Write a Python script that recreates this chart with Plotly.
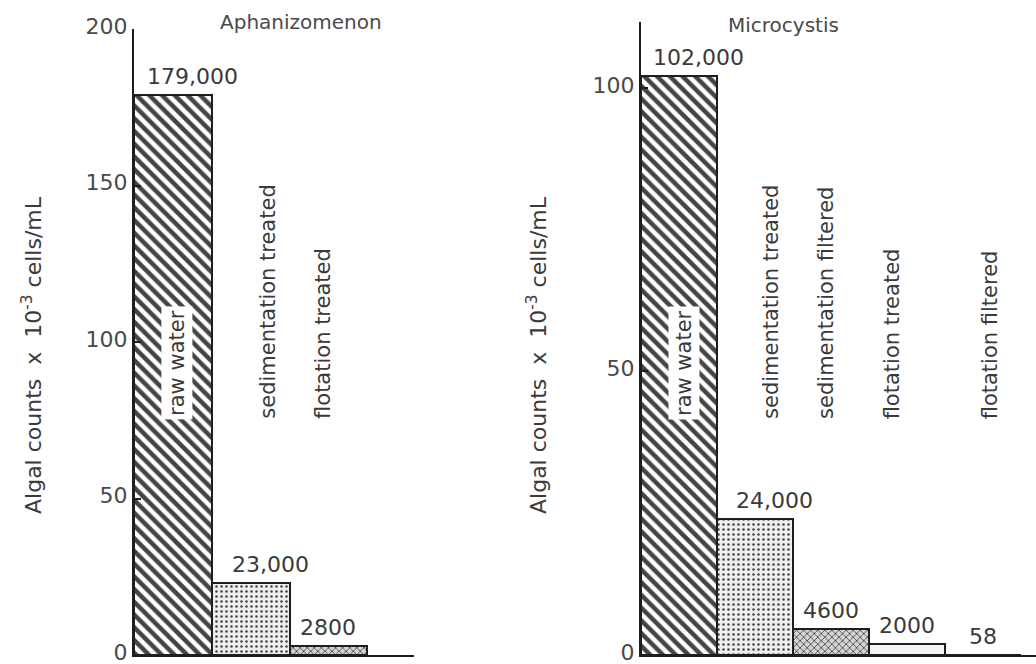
import plotly.graph_objects as go

# Algal counts (cells/mL) for each treatment stage
aph_categories = ["raw water", "sedimentation treated", "flotation treated"]
aph_counts = [179000, 23000, 2800]

mic_categories = ["raw water", "sedimentation treated", "sedimentation filtered",
                  "flotation treated", "flotation filtered"]
mic_counts = [102000, 24000, 4600, 2000, 58]

aph_ticks = [0, 50, 100, 150, 200]
mic_ticks = [0, 50, 100]

panel_titles = ["Aphanizomenon", "Microcystis"]
y_title = "Algal counts\u00a0\u00a0x\u00a0\u00a010<sup>-3</sup>\u00a0cells/mL"

W, H = 1036, 664
FONT = "DejaVu Sans"
INK = "#1e1e1e"
TEXT = "#3a3a3a"

# fill styles for each bar kind
STYLE = {
    "hatch": dict(shape="\\", fg="#111111", bg="#ffffff", size=9, solidity=0.5),
    "dots": dict(shape=".", fg="#c4c4c4", bg="#eeeeee", size=5, solidity=0.2),
    "mottle": dict(shape="x", fg="#505050", bg="#d4d4d4", size=5, solidity=0.3),
    "light": dict(shape="", fg="#f5f5f5", bg="#f5f5f5", size=5, solidity=0.3),
    "solid": dict(shape="", fg="#222222", bg="#222222", size=5, solidity=0.3),
}
aph_styles = ["hatch", "dots", "mottle"]
mic_styles = ["hatch", "dots", "mottle", "light", "solid"]


def fmt(n):
    return f"{n:,}" if n >= 10000 else str(n)


def bar(cats, counts, styles, xa, ya):
    st = [STYLE[s] for s in styles]
    return go.Bar(
        x=cats, y=[c / 1000 for c in counts], xaxis=xa, yaxis=ya, width=1,
        marker=dict(
            color=[s["bg"] for s in st],
            line=dict(color=INK, width=2),
            pattern=dict(fillmode="overlay", fgopacity=1,
                         shape=[s["shape"] for s in st],
                         fgcolor=[s["fg"] for s in st],
                         bgcolor=[s["bg"] for s in st],
                         size=[s["size"] for s in st],
                         solidity=[s["solidity"] for s in st]),
        ),
        showlegend=False, hoverinfo="skip",
    )


fig = go.Figure()
fig.add_trace(bar(aph_categories, aph_counts, aph_styles, "x", "y"))
fig.add_trace(bar(mic_categories, mic_counts, mic_styles, "x2", "y2"))

ybot = (H - 655) / H
yaxis_common = dict(showgrid=False, zeroline=False, showline=True, linecolor=INK,
                    linewidth=2, ticks="inside", ticklen=7, tickwidth=1.5,
                    tickcolor=INK, automargin=False, ticklabeloverflow="allow",
                    ticklabelshift=-3,
                    tickfont=dict(family=FONT, size=22, color="#4a4a4a"))
xaxis_common = dict(showgrid=False, zeroline=False, showline=True, linecolor=INK,
                    linewidth=2, showticklabels=False, ticks="", type="category",
                    automargin=False)

fig.update_layout(
    template="none",
    width=W, height=H, margin=dict(l=0, r=0, t=0, b=0, pad=0),
    paper_bgcolor="white", plot_bgcolor="white", bargap=0,
    xaxis=dict(domain=[134 / W, 414 / W], range=[-0.5, 3.1], anchor="y",
               categoryorder="array", categoryarray=aph_categories, **xaxis_common),
    yaxis=dict(domain=[ybot, (H - 29) / H], range=[0, 200], tickvals=aph_ticks,
               anchor="x", **yaxis_common),
    xaxis2=dict(domain=[641 / W, 1.0], range=[-0.5, 4.7], anchor="y2",
                categoryorder="array", categoryarray=mic_categories, **xaxis_common),
    yaxis2=dict(domain=[ybot, (H - 22) / H], range=[0, 111.6], tickvals=mic_ticks,
                anchor="x2", **yaxis_common),
)

ann = []
label_font = dict(family=FONT, size=22, color=TEXT)
cat_font = dict(family=FONT, size=21, color=TEXT)

# value labels above bars
for cats, counts, xr, yr in [(aph_categories, aph_counts, "x", "y"),
                             (mic_categories, mic_counts, "x2", "y2")]:
    for c, n in zip(cats, counts):
        ann.append(dict(x=c, y=n / 1000, xref=xr, yref=yr, text=fmt(n),
                        showarrow=False, yanchor="bottom", xanchor="center",
                        yshift=4, xshift=20 if n >= 10000 else 0, font=label_font))

# vertical category names, all ending at the same height
cat_shift = {
    ("x", "raw water"): 4, ("x", "sedimentation treated"): 17,
    ("x", "flotation treated"): -6,
    ("x2", "raw water"): 5, ("x2", "sedimentation treated"): 16,
    ("x2", "sedimentation filtered"): -5, ("x2", "flotation treated"): -15,
    ("x2", "flotation filtered"): 7,
}
for cats, xr in [(aph_categories, "x"), (mic_categories, "x2")]:
    for c in cats:
        raw = c == "raw water"
        ann.append(dict(x=c, xref=xr, y=(H - 420) / H, yref="paper", text=c,
                        textangle=-90, showarrow=False, yanchor="bottom",
                        xanchor="center", xshift=cat_shift[(xr, c)], font=cat_font,
                        bgcolor="white" if raw else None, borderpad=3 if raw else 0))

# panel titles
for t, xc, yc in [(panel_titles[0], 301, 22), (panel_titles[1], 783, 25)]:
    ann.append(dict(x=xc / W, y=(H - yc) / H, xref="paper", yref="paper", text=t,
                    showarrow=False, xanchor="center", yanchor="middle",
                    font=dict(family=FONT, size=20, color="#4a4a4a")))

# y-axis titles
for xc in (32, 537):
    ann.append(dict(x=xc / W, y=(H - 355) / H, xref="paper", yref="paper",
                    text=y_title, textangle=-90, showarrow=False,
                    xanchor="center", yanchor="middle",
                    font=dict(family=FONT, size=22, color=TEXT)))

fig.update_layout(annotations=ann)
fig.write_html("out.html")
